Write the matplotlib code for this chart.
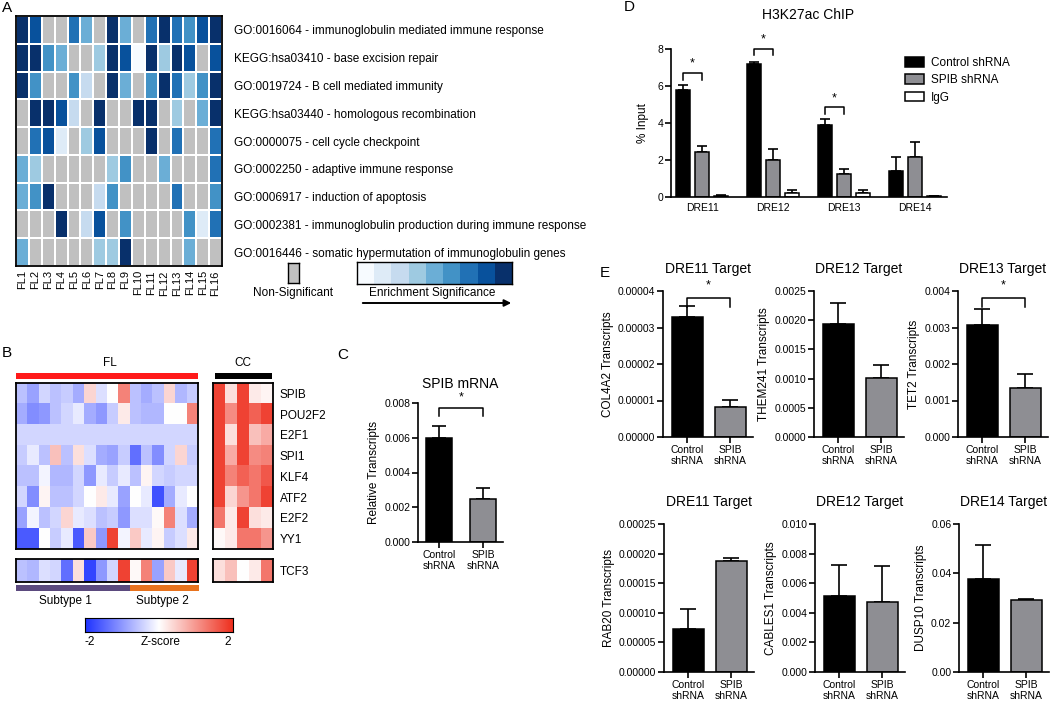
import matplotlib.pyplot as plt
import numpy as np
from matplotlib.colors import ListedColormap, BoundaryNorm, LinearSegmentedColormap
from matplotlib.patches import FancyArrowPatch

plt.rcParams['font.family'] = ['Liberation Sans', 'DejaVu Sans']

# ---------------- data ----------------
# panel A: enrichment level per FL sample (0 = non-significant, 1..9 = significance)
fl_samples = ['FL%d' % i for i in range(1, 17)]
go_terms = ['GO:0016064 - immunoglobulin mediated immune response',
            'KEGG:hsa03410 - base excision repair',
            'GO:0019724 - B cell mediated immunity',
            'KEGG:hsa03440 - homologous recombination',
            'GO:0000075 - cell cycle checkpoint',
            'GO:0002250 - adaptive immune response',
            'GO:0006917 - induction of apoptosis',
            'GO:0002381 - immunoglobulin production during immune response',
            'GO:0016446 - somatic hypermutation of immunoglobulin genes']
enrich = [[9, 8, 0, 0, 7, 5, 0, 9, 5, 0, 7, 9, 7, 6, 8, 9],
          [9, 9, 6, 5, 0, 0, 4, 9, 8, 1, 9, 4, 9, 8, 0, 8],
          [9, 6, 0, 0, 6, 3, 0, 9, 5, 0, 6, 9, 7, 4, 6, 9],
          [0, 9, 9, 8, 3, 0, 9, 0, 0, 9, 9, 0, 4, 0, 5, 9],
          [0, 7, 8, 2, 0, 4, 8, 0, 0, 0, 9, 0, 7, 0, 0, 7],
          [5, 4, 0, 0, 0, 0, 0, 4, 6, 0, 0, 5, 0, 0, 0, 7],
          [5, 6, 9, 0, 0, 0, 3, 6, 0, 0, 0, 0, 7, 0, 0, 6],
          [0, 0, 0, 9, 0, 3, 8, 0, 6, 0, 0, 0, 0, 6, 2, 7],
          [5, 0, 0, 0, 0, 0, 4, 4, 9, 0, 0, 0, 0, 5, 0, 0]]

# panel B: z-scores
tf_genes = ['SPIB', 'POU2F2', 'E2F1', 'SPI1', 'KLF4', 'ATF2', 'E2F2', 'YY1']
fl_z = [[-0.6, -0.9, -0.4, -0.6, -0.5, -0.8, 0.4, -0.3, 0.0, 1.2, -0.6, -0.8, -0.6, 0.4, -0.7, -0.5],
        [-0.8, -1.1, -1.0, -0.6, -0.4, -0.2, -0.8, -1.0, -0.5, 0.2, -0.6, -0.7, -0.7, 0.0, 0.0, 1.2],
        [-0.4, -0.4, -0.4, -0.4, -0.4, -0.4, -0.4, -0.4, -0.4, -0.4, -0.4, -0.4, -0.4, -0.4, -0.4, -0.4],
        [-0.5, -0.2, -0.6, 0.6, -0.6, 0.3, -0.3, -0.8, -0.9, -0.5, -1.4, -0.6, -1.1, -0.4, 0.4, -0.5],
        [-0.6, -0.6, -0.1, -0.7, -0.7, -0.4, -1.0, -0.2, -0.5, -0.2, -0.6, 0.1, -0.4, -0.5, -0.4, -0.4],
        [-0.4, -1.1, 0.1, -0.6, -0.6, -0.4, 0.0, 0.2, -0.2, -0.9, 0.0, -0.2, -1.7, -0.8, -0.2, 0.0],
        [-0.9, -0.1, -0.6, -0.4, 0.4, -0.2, -0.3, -0.6, -0.5, -1.0, -0.3, -0.3, 0.05, 1.2, -0.3, -0.8],
        [-1.6, -1.6, 0.0, -0.5, -0.2, -1.6, 0.5, -1.0, 1.8, -0.1, 0.5, -0.2, 0.1, -0.5, -0.3, 0.2]]
cc_z = [[1.8, 0.3, 1.8, 0.2, 0.1],
        [1.8, 1.1, 1.8, 1.5, 1.8],
        [1.8, 0.3, 1.8, 0.6, 0.8],
        [1.8, 0.8, 1.8, 1.1, 1.2],
        [1.8, 1.2, 1.5, 1.3, 1.6],
        [1.8, 0.4, 1.0, 1.3, 1.8],
        [1.3, 0.2, 1.8, 0.3, 0.2],
        [0.05, 0.2, 1.3, 1.3, 1.0]]
tcf3_fl = [-0.6, -0.7, -0.3, -0.4, -1.4, 0.3, -1.8, -1.0, -0.4, 1.8, 0.05, 1.2, -0.9, 0.5, -0.2, 1.8]
tcf3_cc = [0.3, 0.6, 0.0, 0.2, 1.3]

# panel C
groups = ['Control\nshRNA', 'SPIB\nshRNA']
spib_mean = [0.0060, 0.00245]
spib_top = [0.0067, 0.0031]

# panel D
dre_sites = ['DRE11', 'DRE12', 'DRE13', 'DRE14']
chip_ctrl = [5.8, 7.2, 3.9, 1.4]
chip_ctrl_top = [6.05, 7.28, 4.2, 2.15]
chip_spib = [2.45, 2.0, 1.22, 2.15]
chip_spib_top = [2.75, 2.6, 1.5, 3.0]
chip_igg = [0.08, 0.2, 0.2, 0.03]
chip_igg_top = [0.12, 0.38, 0.38, 0.06]

# panel E
e_titles = ['DRE11 Target', 'DRE12 Target', 'DRE13 Target',
            'DRE11 Target', 'DRE12 Target', 'DRE14 Target']
e_ylabels = ['COL4A2 Transcripts', 'THEM241 Transcripts', 'TET2 Transcripts',
             'RAB20 Transcripts', 'CABLES1 Transcripts', 'DUSP10 Transcripts']
e_means = [[3.28e-5, 0.82e-5], [0.00193, 0.00101], [0.00306, 0.00135],
           [7.2e-5, 18.7e-5], [0.00515, 0.00472], [0.0378, 0.0290]]
e_tops = [[3.58e-5, 1.02e-5], [0.0023, 0.00124], [0.0035, 0.00173],
          [10.6e-5, 19.3e-5], [0.00722, 0.00717], [0.0515, 0.0294]]
e_ticks = [[0, 1e-5, 2e-5, 3e-5, 4e-5], [0, 0.0005, 0.001, 0.0015, 0.002, 0.0025],
           [0, 0.001, 0.002, 0.003, 0.004], [0, 5e-5, 10e-5, 15e-5, 20e-5, 25e-5],
           [0, 0.002, 0.004, 0.006, 0.008, 0.010], [0, 0.02, 0.04, 0.06]]
e_ticklabels = [['0.00000', '0.00001', '0.00002', '0.00003', '0.00004'],
                ['0.0000', '0.0005', '0.0010', '0.0015', '0.0020', '0.0025'],
                ['0.000', '0.001', '0.002', '0.003', '0.004'],
                ['0.00000', '0.00005', '0.00010', '0.00015', '0.00020', '0.00025'],
                ['0.000', '0.002', '0.004', '0.006', '0.008', '0.010'],
                ['0.00', '0.02', '0.04', '0.06']]
e_signif = [True, False, True, False, False, False]

# ---------------- figure ----------------
W, H = 1050, 704
fig = plt.figure(figsize=(W / 100, H / 100), dpi=100)


def box(x, y, w, h):
    return fig.add_axes([x / W, 1 - (y + h) / H, w / W, h / H])


def ftext(x, y, s, **kw):
    fig.text(x / W, 1 - y / H, s, **kw)


def plain(ax, lw=1.3):
    ax.set_xticks([])
    ax.set_yticks([])
    for s in ax.spines.values():
        s.set_linewidth(lw)


def prism(ax):
    for s in ['top', 'right']:
        ax.spines[s].set_visible(False)
    for s in ['left', 'bottom']:
        ax.spines[s].set_linewidth(1.2)
    ax.tick_params(direction='out', length=4, width=1.2, labelsize=7.5, pad=1.5)


def bracket(ax, x1, x2, y, drop, sy):
    ax.plot([x1, x1, x2, x2], [y - drop, y, y, y - drop], color='k', lw=1.1, clip_on=False)
    ax.text((x1 + x2) / 2, sy, '*', ha='center', va='center', fontsize=9, clip_on=False)


gray_bar = '#8e8e93'
for lab, x, y in [('A', 2, 8), ('B', 2, 353), ('C', 337, 355), ('D', 624, 7), ('E', 600, 273)]:
    ftext(x, y, lab, fontsize=11, va='center')

# ---- A ----
blues = ['#c0c0c0', '#f7fbff', '#deebf7', '#c6dbef', '#9ecae1', '#6baed6',
         '#4292c6', '#2171b5', '#08519c', '#08306b']
cmapA = ListedColormap(blues)
normA = BoundaryNorm(np.arange(-0.5, 10.5, 1), cmapA.N)
axA = box(16, 16, 206, 250)
axA.pcolormesh(np.array(enrich), cmap=cmapA, norm=normA, edgecolors='white', linewidth=1.3)
axA.set_xlim(0, 16)
axA.set_ylim(9, 0)
axA.set_xticks(np.arange(16) + 0.5)
axA.set_xticklabels(fl_samples, rotation=90, fontsize=8)
axA.yaxis.tick_right()
axA.set_yticks(np.arange(9) + 0.5)
axA.set_yticklabels(go_terms, fontsize=8.5)
axA.tick_params(length=0, pad=3)
axA.tick_params(axis='y', pad=9)
for s in axA.spines.values():
    s.set_linewidth(1.3)

axNS = box(288, 263, 11, 20)
axNS.set_facecolor('#c0c0c0')
plain(axNS, 1.0)
ftext(293, 293, 'Non-Significant', fontsize=8.5, ha='center', va='center')

axCB = box(357, 262, 155, 22)
axCB.imshow(np.arange(1, 10)[None, :], cmap=ListedColormap(blues[1:]), aspect='auto')
plain(axCB, 1.0)
ftext(432, 293, 'Enrichment Significance', fontsize=8.5, ha='center', va='center')
fig.add_artist(FancyArrowPatch((360 / W, 1 - 303 / H), (514 / W, 1 - 303 / H),
                               transform=fig.transFigure, arrowstyle='-|>',
                               mutation_scale=10, lw=1.4, color='k'))

# ---- B ----
zmap = LinearSegmentedColormap.from_list('z', ['#1e32ff', '#ffffff', '#ee2f1e'])
axFL = box(16, 383, 182, 166)
axFL.imshow(np.array(fl_z), cmap=zmap, vmin=-2, vmax=2, aspect='auto')
plain(axFL)
axCC = box(213, 383, 60, 166)
axCC.imshow(np.array(cc_z), cmap=zmap, vmin=-2, vmax=2, aspect='auto')
plain(axCC)
axCC.yaxis.tick_right()
axCC.set_yticks(range(8))
axCC.set_yticklabels(tf_genes, fontsize=8.5)
axCC.tick_params(length=0, pad=5)

axT1 = box(16, 559, 182, 23)
axT1.imshow(np.array([tcf3_fl]), cmap=zmap, vmin=-2, vmax=2, aspect='auto')
plain(axT1)
axT2 = box(213, 559, 60, 23)
axT2.imshow(np.array([tcf3_cc]), cmap=zmap, vmin=-2, vmax=2, aspect='auto')
plain(axT2)
axT2.yaxis.tick_right()
axT2.set_yticks([0])
axT2.set_yticklabels(['TCF3'], fontsize=8.5)
axT2.tick_params(length=0, pad=5)

for (x, y, w, h, c) in [(16, 373, 182, 6, '#ff1a1a'), (215, 373, 57, 6, 'black'),
                        (16, 585, 114, 6, '#5b4a7e'), (130, 585, 69, 6, '#e8731e')]:
    a = box(x, y, w, h)
    a.set_facecolor(c)
    a.set_xticks([])
    a.set_yticks([])
    for s in a.spines.values():
        s.set_visible(False)
ftext(110, 363, 'FL', fontsize=8.5, ha='center', va='center')
ftext(243, 363, 'CC', fontsize=8.5, ha='center', va='center')
ftext(65, 601, 'Subtype 1', fontsize=8.5, ha='center', va='center')
ftext(162, 601, 'Subtype 2', fontsize=8.5, ha='center', va='center')

axZ = box(85, 618, 148, 14)
axZ.imshow(np.linspace(-2, 2, 256)[None, :], cmap=zmap, aspect='auto')
plain(axZ, 0.8)
ftext(90, 642, '-2', fontsize=8.5, ha='center', va='center')
ftext(161, 642, 'Z-score', fontsize=8.5, ha='center', va='center')
ftext(228, 642, '2', fontsize=8.5, ha='center', va='center')

# ---- C ----
axC = box(418, 403, 85, 139)
xc = np.arange(2)
axC.bar(xc, spib_mean, width=0.6, color=['black', gray_bar], edgecolor='black', lw=1.1, zorder=2)
axC.errorbar(xc, spib_mean, yerr=[[0, 0], np.array(spib_top) - np.array(spib_mean)],
             fmt='none', ecolor='black', elinewidth=1.2, capsize=5, capthick=1.2, zorder=1)
axC.set_xlim(-0.48, 1.45)
axC.set_ylim(0, 0.008)
axC.set_yticks([0, 0.002, 0.004, 0.006, 0.008])
axC.set_yticklabels(['0.000', '0.002', '0.004', '0.006', '0.008'])
axC.set_xticks(xc)
axC.set_xticklabels(groups, fontsize=8)
prism(axC)
axC.set_ylabel('Relative Transcripts', fontsize=8.5, labelpad=3)
axC.set_title('SPIB mRNA', fontsize=10, pad=11)
bracket(axC, 0, 1, 0.0077, 0.00045, 0.0083)

# ---- D ----
axD = box(671, 49, 276, 148)
xd = np.arange(4)
off = 0.27
bw = 0.2
sets = [(chip_ctrl, chip_ctrl_top, 'black', 'Control shRNA', -off),
        (chip_spib, chip_spib_top, gray_bar, 'SPIB shRNA', 0),
        (chip_igg, chip_igg_top, 'white', 'IgG', off)]
for vals, tops, col, lab, o in sets:
    axD.bar(xd + o, vals, width=bw, color=col, edgecolor='black', lw=1.1, label=lab, zorder=2)
    axD.errorbar(xd + o, vals, yerr=[np.zeros(4), np.array(tops) - np.array(vals)],
                 fmt='none', ecolor='black', elinewidth=1.2, capsize=3.5, capthick=1.2, zorder=1)
axD.set_xlim(-0.44, 3.45)
axD.set_ylim(0, 8)
axD.set_yticks([0, 2, 4, 6, 8])
axD.set_xticks(xd)
axD.set_xticklabels(dre_sites, fontsize=8)
prism(axD)
axD.tick_params(axis='x', length=0, pad=4)
axD.set_ylabel('% Input', fontsize=8.5, labelpad=6)
ftext(808, 15, 'H3K27ac ChIP', fontsize=10, ha='center', va='center')
bracket(axD, 0 - off, 0, 6.7, 0.35, 7.2)
bracket(axD, 1 - off, 1, 8.0, 0.35, 8.5)
bracket(axD, 2 - off, 2, 4.85, 0.35, 5.35)
axD.legend(loc='upper left', bbox_to_anchor=(899 / W, 1 - 51 / H), bbox_transform=fig.transFigure,
           frameon=False, fontsize=8.5, handlelength=1.6, handleheight=0.9,
           labelspacing=0.45, borderpad=0, handletextpad=0.6)

# ---- E ----
e_boxes = [(663, 291, 90, 146), (814, 291, 90, 146), (958, 291, 90, 146),
           (664, 524, 90, 148), (815, 524, 90, 148), (959, 524, 90, 148)]
for i in range(6):
    x, y, w, h = e_boxes[i]
    ax = box(x, y, w, h)
    ax.bar(xc, e_means[i], width=0.72, color=['black', gray_bar], edgecolor='black', lw=1.1, zorder=2)
    ax.errorbar(xc, e_means[i], yerr=[[0, 0], np.array(e_tops[i]) - np.array(e_means[i])],
                fmt='none', ecolor='black', elinewidth=1.2, capsize=6, capthick=1.2, zorder=1)
    ax.set_xlim(-0.56, 1.53)
    ax.set_ylim(0, e_ticks[i][-1])
    ax.set_yticks(e_ticks[i])
    ax.set_yticklabels(e_ticklabels[i])
    ax.set_xticks(xc)
    ax.set_xticklabels(groups, fontsize=8)
    prism(ax)
    ax.set_ylabel(e_ylabels[i], fontsize=8.5, labelpad=3)
    ax.set_title(e_titles[i], fontsize=10, pad=13)
    if e_signif[i]:
        top = e_ticks[i][-1]
        bracket(ax, 0, 1, top * 0.95, top * 0.06, top * 1.035)

fig.savefig('out.png', dpi=100)
